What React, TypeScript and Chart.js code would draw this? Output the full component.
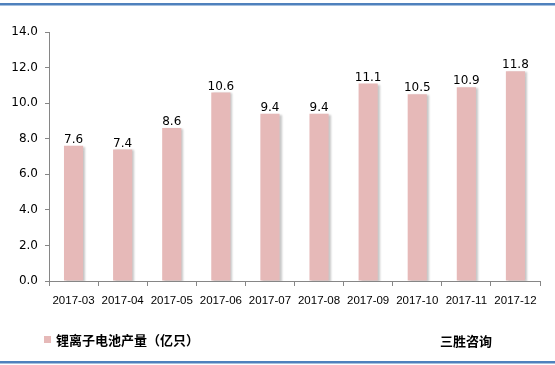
import React, { useEffect, useRef } from "react";
import { Chart, registerables } from "chart.js";

Chart.register(...registerables);

const categories = ["2017-03", "2017-04", "2017-05", "2017-06", "2017-07", "2017-08", "2017-09", "2017-10", "2017-11", "2017-12"];
const production = [7.6, 7.4, 8.6, 10.6, 9.4, 9.4, 11.1, 10.5, 10.9, 11.8];
const seriesName = "锂离子电池产量（亿只）";
const sourceText = "三胜咨询";

const BAR_COLOR = "#E6B9B8";

const decorPlugin = {
  id: "decor",
  beforeDatasetsDraw(chart: any) {
    const ctx = chart.ctx;
    ctx.save();
    ctx.shadowColor = "rgba(0,0,0,0.22)";
    ctx.shadowOffsetX = 2;
    ctx.shadowOffsetY = 1;
    ctx.shadowBlur = 2;
  },
  afterDatasetsDraw(chart: any) {
    const ctx = chart.ctx;
    ctx.restore();
    const meta = chart.getDatasetMeta(0);
    ctx.save();
    ctx.fillStyle = "#000";
    ctx.font = "12px 'DejaVu Sans'";
    ctx.textAlign = "center";
    ctx.textBaseline = "bottom";
    meta.data.forEach((bar: any, i: number) => {
      ctx.fillText(production[i].toFixed(1), bar.x, bar.y);
    });
    ctx.restore();
  },
  afterDraw(chart: any) {
    const ctx = chart.ctx;
    const w = chart.width;
    ctx.save();
    ctx.fillStyle = "#4F81BD";
    ctx.fillRect(0, 3, w, 2.5);
    ctx.fillRect(0, 361, w, 2.5);
    // legend
    ctx.fillStyle = BAR_COLOR;
    ctx.fillRect(44, 336, 7, 7);
    ctx.fillStyle = "#000";
    ctx.font = "bold 13px 'Noto Sans CJK SC'";
    ctx.textBaseline = "middle";
    ctx.textAlign = "left";
    ctx.fillText(seriesName, 56, 340);
    ctx.fillText(sourceText, 440, 341);
    ctx.restore();
  },
};

export default function App() {
  const ref = useRef<HTMLCanvasElement>(null);
  useEffect(() => {
    document.body.style.margin = "0";
    const chart = new Chart(ref.current as HTMLCanvasElement, {
      type: "bar",
      data: {
        labels: categories,
        datasets: [
          {
            label: seriesName,
            data: production,
            backgroundColor: BAR_COLOR,
            borderWidth: 0,
            barPercentage: 0.39,
            categoryPercentage: 1,
          },
        ],
      },
      options: {
        animation: false,
        responsive: false,
        maintainAspectRatio: false,
        layout: { padding: { top: 32, right: 15, bottom: 50, left: 0 } },
        plugins: { legend: { display: false }, tooltip: { enabled: false } },
        scales: {
          x: {
            grid: {
              display: true,
              drawOnChartArea: false,
              drawTicks: true,
              tickLength: 5,
              color: "#868686",
              offset: true,
            },
            border: { display: true, color: "#868686", width: 1 },
            ticks: {
              color: "#000",
              font: { family: "'Liberation Sans'", size: 11.5 },
              padding: 8,
              maxRotation: 0,
              autoSkip: false,
            },
            afterFit(scale: any) {
              scale.height = 34;
            },
          },
          y: {
            min: 0,
            max: 14,
            grid: {
              display: true,
              drawOnChartArea: false,
              drawTicks: true,
              tickLength: 4,
              color: "#868686",
            },
            border: { display: true, color: "#868686", width: 1 },
            ticks: {
              stepSize: 2,
              color: "#000",
              font: { family: "'DejaVu Sans'", size: 12 },
              padding: 7,
              callback: (v: any) => Number(v).toFixed(1),
            },
            afterFit(scale: any) {
              scale.width = 49;
            },
          },
        },
      },
      plugins: [decorPlugin],
    });
    return () => chart.destroy();
  }, []);
  return (
    <div style={{ position: "fixed", left: 0, top: 0, width: 555, height: 365, background: "#fff" }}>
      <canvas ref={ref} width={555} height={365} />
    </div>
  );
}
